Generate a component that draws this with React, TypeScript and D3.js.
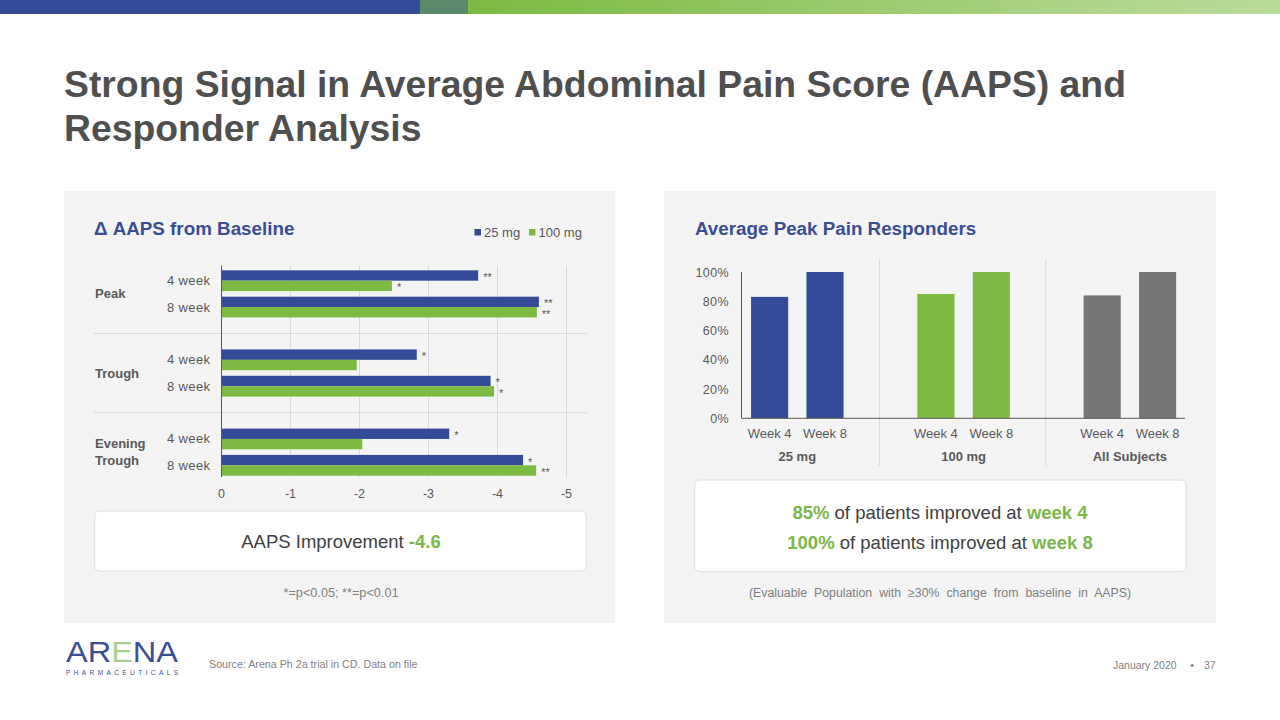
import React from "react";
import * as d3 from "d3";

// ---------- Data ----------
const titleLines = ["Strong Signal in Average Abdominal Pain Score (AAPS) and", "Responder Analysis"];

// Left chart: Δ AAPS from Baseline
const aapsGroups = ["Peak", "Trough", "Evening Trough"];
const aapsRows = ["4 week", "8 week"];
const aaps25 = [-3.72, -4.6, -2.83, -3.9, -3.3, -4.37];
const aaps100 = [-2.47, -4.57, -1.96, -3.95, -2.04, -4.56];
const sig25 = ["**", "**", "*", "*", "*", "*"];
const sig100 = ["*", "**", "", "*", "", "**"];
const aapsTicks = [0, -1, -2, -3, -4, -5];
const seriesNames = ["25 mg", "100 mg"];

// Right chart: Average Peak Pain Responders
const respGroups = ["25 mg", "100 mg", "All Subjects"];
const respWeeks = ["Week 4", "Week 8"];
const respWeek4 = [83, 85, 84];
const respWeek8 = [100, 100, 100];
const respTicks = [0, 20, 40, 60, 80, 100];

// ---------- Style ----------
const BLUE = "#344c98";
const GREEN = "#7cba42";
const GRAY = "#767676";
const TXT = "#595959";
const GRID = "#d9d9d9";
const FONT = "'Liberation Sans', Arial, sans-serif";
const groupColors = [BLUE, GREEN, GRAY];

export default function App() {
  // Left chart scales
  const xL = d3.scaleLinear().domain([0, -5]).range([221.5, 566.5]);
  const slotIds = d3.range(8);
  const yL = d3.scaleBand<number>().domain(slotIds).range([267.5, 478.5]).padding(0);
  const inner = d3.scaleBand<string>().domain(seriesNames).range([0, yL.bandwidth()]).paddingInner(0).paddingOuter(0.27);
  const rowSlot = (i: number) => Math.floor(i / 2) * 3 + (i % 2);
  const gridTop = 265.5;
  const gridBottom = 477;

  // Right chart scales
  const yR = d3.scaleLinear().domain([0, 100]).range([418.3, 272]);
  const xR = d3.scaleBand<number>().domain(slotIds).range([741.9, 1185.3]).padding(0);
  const barW = xR.bandwidth() * 0.67;
  const colSlot = (g: number, w: number) => g * 3 + w;

  const rowsData = aaps25.map((v, i) => ({
    i,
    group: aapsGroups[Math.floor(i / 2)],
    row: aapsRows[i % 2],
    v25: v,
    v100: aaps100[i],
  }));

  return (
    <svg width={1280} height={720} style={{ position: "absolute", left: 0, top: 0, fontFamily: FONT }}>
      <defs>
        <linearGradient id="topgrad" x1="0" x2="1" y1="0" y2="0">
          <stop offset="0%" stopColor="#7cba42" />
          <stop offset="100%" stopColor="#bcdc9e" />
        </linearGradient>
      </defs>
      <rect x={0} y={0} width={1280} height={720} fill="#ffffff" />
      {/* Top bar */}
      <rect x={0} y={0} width={420} height={14} fill={BLUE} />
      <rect x={420} y={0} width={48} height={14} fill="#5a8a6b" />
      <rect x={468} y={0} width={812} height={14} fill="url(#topgrad)" />

      {/* Title */}
      {titleLines.map((t, i) => (
        <text key={i} x={64} y={97 + i * 44} fontSize={37.35} fontWeight="bold" fill="#4f4f4f">
          {t}
        </text>
      ))}

      {/* Panels */}
      <rect x={64} y={191} width={551} height={432} fill="#f4f4f4" />
      <rect x={664} y={191} width={552} height={432} fill="#f4f4f4" />

      {/* ---------- Left chart ---------- */}
      <text x={94} y={234.5} fontSize={18.8} fontWeight="bold" fill="#3a4e94">
        Δ AAPS from Baseline
      </text>
      {/* legend */}
      {seriesNames.map((s, i) => {
        const lx = i === 0 ? 474.5 : 529;
        return (
          <g key={s}>
            <rect x={lx} y={229} width={6.5} height={6.5} fill={i === 0 ? BLUE : GREEN} />
            <text x={lx + 9.5} y={236.5} fontSize={13} fill={TXT}>
              {s}
            </text>
          </g>
        );
      })}
      {/* vertical gridlines */}
      {aapsTicks.slice(1).map((t) => (
        <line key={t} x1={xL(t)} x2={xL(t)} y1={gridTop} y2={gridBottom} stroke={GRID} strokeWidth={1} />
      ))}
      {/* group separators */}
      {[2, 5].map((s) => (
        <line key={s} x1={94} x2={587} y1={yL(s)! + yL.bandwidth() / 2} y2={yL(s)! + yL.bandwidth() / 2} stroke={GRID} strokeWidth={1} />
      ))}
      {/* bars */}
      {rowsData.map((d) => {
        const y0 = yL(rowSlot(d.i))!;
        const yb = y0 + inner("25 mg")!;
        const yg = y0 + inner("100 mg")!;
        const h = inner.bandwidth();
        return (
          <g key={d.i}>
            <rect x={xL(0)} y={yb} width={xL(d.v25) - xL(0)} height={h} fill={BLUE} />
            <rect x={xL(0)} y={yg} width={xL(d.v100) - xL(0)} height={h} fill={GREEN} />
            {sig25[d.i] && (
              <text x={xL(d.v25) + 5} y={yb + h / 2 + 5.5} fontSize={11} fill={TXT}>
                {sig25[d.i]}
              </text>
            )}
            {sig100[d.i] && (
              <text x={xL(d.v100) + 5} y={yg + h / 2 + 5.5} fontSize={11} fill={TXT}>
                {sig100[d.i]}
              </text>
            )}
            <text x={210.5} y={y0 + yL.bandwidth() / 2 + 4.5} fontSize={13} fill={TXT} textAnchor="end" letterSpacing={0.4}>
              {d.row}
            </text>
          </g>
        );
      })}
      {/* zero axis */}
      <line x1={xL(0)} x2={xL(0)} y1={gridTop} y2={gridBottom} stroke="#595959" strokeWidth={1} />
      {/* group labels */}
      {aapsGroups.map((g, gi) => {
        const cy = (yL(gi * 3)! + yL(gi * 3 + 1)! + yL.bandwidth()) / 2;
        const words = g.split(" ");
        return (
          <text key={g} x={95} y={cy + 4.5 - ((words.length - 1) * 17.5) / 2} fontSize={13} fontWeight="bold" fill={TXT}>
            {words.map((w, wi) => (
              <tspan key={wi} x={95} dy={wi === 0 ? 0 : 17.5}>
                {w}
              </tspan>
            ))}
          </text>
        );
      })}
      {/* x tick labels */}
      {aapsTicks.map((t) => (
        <text key={t} x={xL(t)} y={498} fontSize={12.5} fill={TXT} textAnchor="middle">
          {d3.format("d")(t).replace("−", "-")}
        </text>
      ))}
      {/* AAPS improvement box */}
      <rect x={94.7} y={511} width={491.6} height={60} rx={5} fill="#ffffff" stroke="#dedede" strokeWidth={1} />
      <text x={341} y={547.5} fontSize={18.5} fill="#404040" textAnchor="middle">
        AAPS Improvement{" "}
        <tspan fontWeight="bold" fill="#7ab648">
          -4.6
        </tspan>
      </text>
      <text x={341} y={597} fontSize={12.7} fill="#7f7f7f" textAnchor="middle">
        *=p&lt;0.05; **=p&lt;0.01
      </text>

      {/* ---------- Right chart ---------- */}
      <text x={695} y={234.5} fontSize={18.8} fontWeight="bold" fill="#3a4e94">
        Average Peak Pain Responders
      </text>
      {/* separators */}
      {[2, 5].map((s) => (
        <line key={s} x1={xR(s)! + xR.bandwidth() / 2 - 1} x2={xR(s)! + xR.bandwidth() / 2 - 1} y1={260} y2={466} stroke={GRID} strokeWidth={1} />
      ))}
      {/* bars */}
      {respGroups.map((g, gi) => {
        const vals = [respWeek4[gi], respWeek8[gi]];
        return (
          <g key={g}>
            {vals.map((v, wi) => {
              const cx = xR(colSlot(gi, wi))! + xR.bandwidth() / 2;
              return (
                <g key={wi}>
                  <rect x={cx - barW / 2} y={yR(v)} width={barW} height={yR(0) - yR(v)} fill={groupColors[gi]} />
                  <text x={cx} y={438} fontSize={13} fill={TXT} textAnchor="middle">
                    {respWeeks[wi]}
                  </text>
                </g>
              );
            })}
            <text
              x={(xR(colSlot(gi, 0))! + xR(colSlot(gi, 1))! + xR.bandwidth()) / 2}
              y={461}
              fontSize={13}
              fontWeight="bold"
              fill={TXT}
              textAnchor="middle"
            >
              {g}
            </text>
          </g>
        );
      })}
      {/* axes */}
      <line x1={741.5} x2={741.5} y1={yR(100)} y2={yR(0)} stroke="#595959" strokeWidth={1} />
      <line x1={741.5} x2={1185} y1={yR(0)} y2={yR(0)} stroke="#595959" strokeWidth={1} />
      {respTicks.map((t) => (
        <text key={t} x={729} y={yR(t) + 4.5} fontSize={12.5} fill={TXT} textAnchor="end" letterSpacing={0.4}>
          {t}%
        </text>
      ))}
      {/* responder box */}
      <rect x={694.7} y={480} width={491.3} height={91.7} rx={5} fill="#ffffff" stroke="#dedede" strokeWidth={1} />
      <text x={940} y={519} fontSize={18.5} fill="#404040" textAnchor="middle">
        <tspan fontWeight="bold" fill="#7ab648">85%</tspan> of patients improved at{" "}
        <tspan fontWeight="bold" fill="#7ab648">week 4</tspan>
      </text>
      <text x={940} y={548.5} fontSize={18.5} fill="#404040" textAnchor="middle">
        <tspan fontWeight="bold" fill="#7ab648">100%</tspan> of patients improved at{" "}
        <tspan fontWeight="bold" fill="#7ab648">week 8</tspan>
      </text>
      <text x={940} y={596.5} fontSize={12.3} fill="#7f7f7f" textAnchor="middle" wordSpacing={3.6}>
        (Evaluable Population with ≥30% change from baseline in AAPS)
      </text>

      {/* ---------- Footer ---------- */}
      <text x={66} y={662} fontSize={29} fill="#3a4e94" textLength={112} lengthAdjust="spacingAndGlyphs">
        AR<tspan fill="#a9d18e">E</tspan>NA
      </text>
      <text x={66} y={674.5} fontSize={6.5} fill="#3a4e94" textLength={112} lengthAdjust="spacing">
        PHARMACEUTICALS
      </text>
      <text x={209} y={668} fontSize={10.7} fill="#7f7f7f">
        Source: Arena Ph 2a trial in CD.  Data on file
      </text>
      <text x={1113} y={669} fontSize={10.5} fill="#7f7f7f">
        January 2020
      </text>
      <text x={1192} y={669} fontSize={10.5} fill="#7f7f7f" textAnchor="middle">
        •
      </text>
      <text x={1204} y={669} fontSize={10.5} fill="#7f7f7f">
        37
      </text>
    </svg>
  );
}
